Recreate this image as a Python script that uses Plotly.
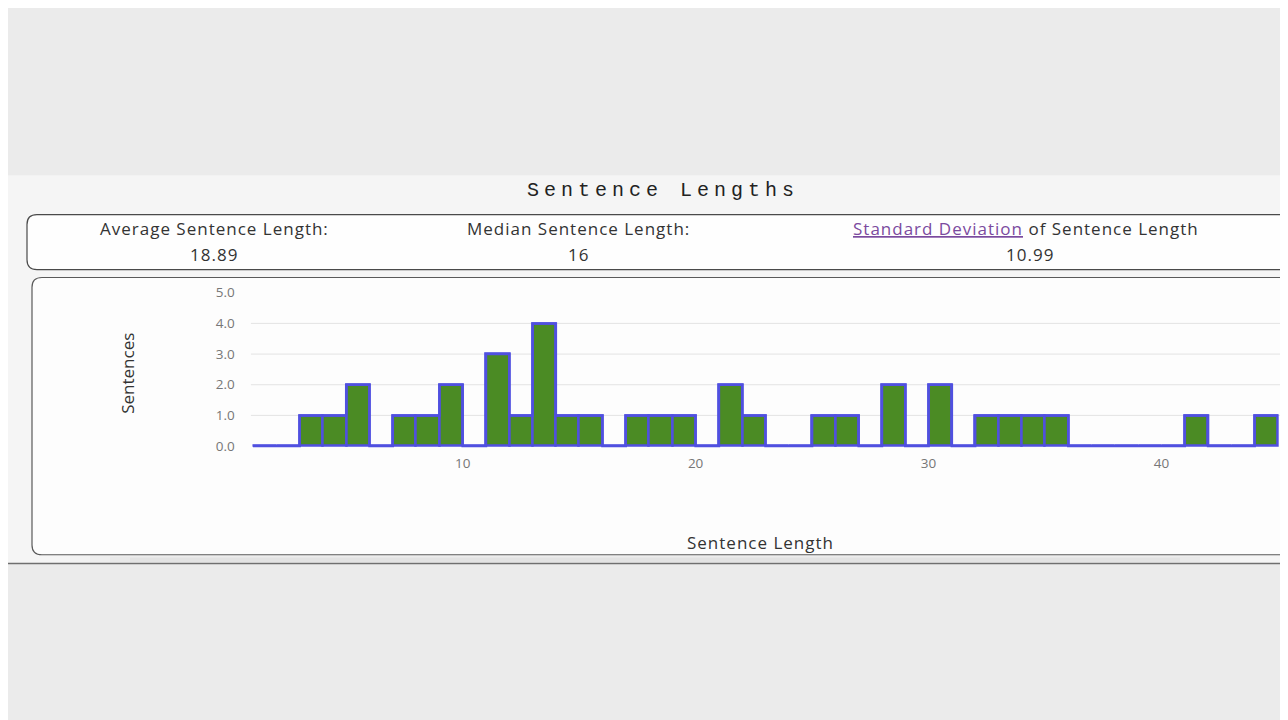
import plotly.graph_objects as go

# ---- data ----
lengths = list(range(1, 45))
counts = [0, 0, 1, 1, 2, 0, 1, 1, 2, 0, 3, 1, 4, 1, 1, 0, 1, 1, 1, 0, 2, 1,
          0, 0, 1, 1, 0, 2, 0, 2, 0, 1, 1, 1, 1, 0, 0, 0, 0, 0, 1, 0, 0, 1]
y_ticks = [0, 1, 2, 3, 4, 5]
x_ticks = [10, 20, 30, 40]
stat_labels = ["Average Sentence Length:", "Median Sentence Length:",
               "<span style='color:#7b4a9e;text-decoration:underline'>Standard Deviation</span> of Sentence Length"]
stat_values = ["18.89", "16", "10.99"]

# page body margin of the browser (8px) is compensated: figure is 1280x712
OX, OY = 8, 8
W, H = 1280, 712
GREEN = "#4b8b24"
BLUE = "#5050e0"
TXT = "#333333"
FONT = "Open Sans"


def px(x):
    return (x - OX) / W


def py(y):
    return 1 - (y - OY) / H


def sp(text, s):
    return f"<span style='letter-spacing:{s}px'>{text}</span>"


def rrect(x0, y0, x1, y1, r):
    pts = [
        f"M{px(x0 + r)},{py(y0)}",
        f"L{px(x1 - r)},{py(y0)}",
        f"Q{px(x1)},{py(y0)} {px(x1)},{py(y0 + r)}",
        f"L{px(x1)},{py(y1 - r)}",
        f"Q{px(x1)},{py(y1)} {px(x1 - r)},{py(y1)}",
        f"L{px(x0 + r)},{py(y1)}",
        f"Q{px(x0)},{py(y1)} {px(x0)},{py(y1 - r)}",
        f"L{px(x0)},{py(y0 + r)}",
        f"Q{px(x0)},{py(y0)} {px(x0 + r)},{py(y0)}",
        "Z",
    ]
    return " ".join(pts)


fig = go.Figure()

fig.add_trace(go.Bar(
    x=lengths, y=counts, offset=0, width=1,
    marker=dict(color=GREEN, line=dict(color=BLUE, width=2.5)),
    hoverinfo="x+y", showlegend=False,
))
step_x = lengths + [lengths[-1] + 1]
step_y = counts + [counts[-1]]
fig.add_trace(go.Scatter(
    x=step_x, y=step_y, mode="lines", line=dict(color=BLUE, width=2.5, shape="hv"),
    hoverinfo="skip", showlegend=False,
))

shapes = []
# panel
shapes.append(dict(type="rect", xref="paper", yref="paper", x0=0, x1=1, y0=py(567), y1=py(172),
                   fillcolor="#f5f5f5", line=dict(width=0), layer="below"))
# soft shadow under chart box
for i, a in enumerate([0.010, 0.015, 0.02, 0.025]):
    shapes.append(dict(type="rect", xref="paper", yref="paper", x0=px(70 + i * 20), x1=px(1240 - i * 20),
                       y0=py(566), y1=py(558 + i), fillcolor=f"rgba(0,0,0,{a})", line=dict(width=0), layer="below"))
shapes.append(dict(type="line", xref="paper", yref="paper", x0=0, x1=1, y0=py(567), y1=py(567),
                   line=dict(color="#6f6f6f", width=1.5), layer="below"))
# stats box
shapes.append(dict(type="path", xref="paper", yref="paper", path=rrect(27, 212, 1320, 268, 10),
                   fillcolor="#fefefe", line=dict(color="#4a4a4a", width=1.2), layer="below"))
# chart box
shapes.append(dict(type="path", xref="paper", yref="paper", path=rrect(32, 276, 1320, 558, 10),
                   fillcolor="#fdfdfd", line=dict(color="#5a5a5a", width=1.2), layer="below"))
# gridlines (ticks 1..4)
for t in y_ticks[1:-1]:
    shapes.append(dict(type="line", xref="x", yref="y", x0=0.9, x1=45.1, y0=t, y1=t,
                       line=dict(color="#e3e3e3", width=1), layer="below"))

annotations = []
annotations.append(dict(
    text=sp("Sentence Lengths", 5),
    x=px(663), y=py(188), xref="paper", yref="paper", showarrow=False,
    xanchor="center", yanchor="middle",
    font=dict(family="Liberation Mono, DejaVu Sans Mono, monospace", size=20, color="#222222")))

stat_cx = [214, 578, 1026]
val_cx = [214, 578, 1030]
for lab, val, cx, vx in zip(stat_labels, stat_values, stat_cx, val_cx):
    annotations.append(dict(text=sp(lab, 1), x=px(cx), y=py(226), xref="paper", yref="paper", showarrow=False,
                            xanchor="center", yanchor="middle",
                            font=dict(family=FONT, size=17, color=TXT)))
    annotations.append(dict(text=sp(val, 1), x=px(vx), y=py(253), xref="paper", yref="paper", showarrow=False,
                            xanchor="center", yanchor="middle",
                            font=dict(family=FONT, size=17, color=TXT)))

annotations.append(dict(text=sp("Sentence Length", 1), x=px(760), y=py(546), xref="paper", yref="paper",
                        showarrow=False, xanchor="center", yanchor="middle",
                        font=dict(family=FONT, size=17, color=TXT)))
annotations.append(dict(text="Sentences", x=px(128), y=py(374), xref="paper", yref="paper",
                        showarrow=False, xanchor="center", yanchor="middle", textangle=-90,
                        font=dict(family=FONT, size=17, color=TXT)))

fig.update_layout(
    width=W, height=H,
    margin=dict(l=0, r=0, t=0, b=0),
    paper_bgcolor="#ebebeb", plot_bgcolor="rgba(0,0,0,0)",
    shapes=shapes, annotations=annotations,
    bargap=0,
    xaxis=dict(domain=[px(250.7), px(1280.3)], range=[0.9, 45.1], tickvals=x_ticks,
               showgrid=False, zeroline=False, showline=False, ticks="",
               tickfont=dict(family=FONT, size=13.5, color="#777777"), ticklabelstandoff=4,
               fixedrange=True),
    yaxis=dict(domain=[py(450.6), py(288.4)], range=[-0.1, 5.1], tickvals=y_ticks, tickformat=".1f",
               showgrid=False, zeroline=False, showline=False, ticks="",
               tickfont=dict(family=FONT, size=13.5, color="#777777"), ticklabelstandoff=15,
               fixedrange=True),
)

fig.write_html("out.html")
